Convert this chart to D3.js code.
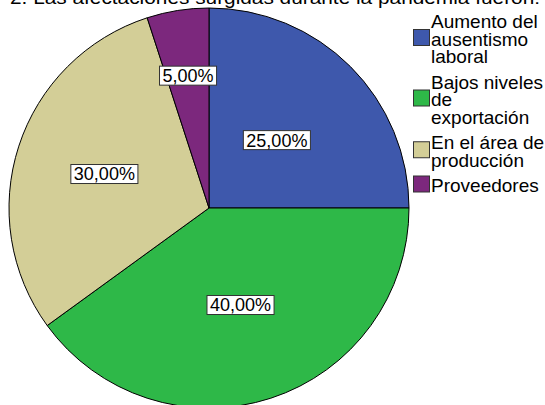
<!DOCTYPE html>
<html>
<head>
<meta charset="utf-8">
<script src="https://cdn.jsdelivr.net/npm/d3@7"></script>
<style>
html,body{margin:0;padding:0;background:#fff;}
svg{display:block;font-family:"Liberation Sans",Arial,sans-serif;}
</style>
</head>
<body>
<svg id="chart" width="545" height="405"></svg>
<script>
const title = "2.  Las afectaciones surgidas durante la pandemia fueron:";
const categories = [
  ["Aumento del", "ausentismo", "laboral"],
  ["Bajos niveles", "de", "exportación"],
  ["En el área de", "producción"],
  ["Proveedores"]
];
const values = [25, 40, 30, 5];
const valueLabels = ["25,00%", "40,00%", "30,00%", "5,00%"];
const colors = ["#3E58AC", "#2EB848", "#D3CE97", "#7C287D"];

const svg = d3.select("#chart");
const cx = 209, cy = 208, R = 200;
const labelRadiusFactor = [0.48, 0.51, 0.55, 0.67];

svg.append("text")
  .attr("x", 10).attr("y", 4)
  .attr("font-size", 18)
  .attr("textLength", 530)
  .attr("lengthAdjust", "spacingAndGlyphs")
  .attr("fill", "#000")
  .text(title);

const pie = d3.pie().sort(null).value(d => d)(values);
const arc = d3.arc().innerRadius(0).outerRadius(R);
const g = svg.append("g").attr("transform", `translate(${cx},${cy})`);

g.selectAll("path.slice").data(pie).join("path")
  .attr("class", "slice")
  .attr("d", arc)
  .attr("fill", (d, i) => colors[i])
  .attr("stroke", "#000")
  .attr("stroke-width", 1);

pie.forEach((d, i) => {
  const lr = R * labelRadiusFactor[i];
  const la = d3.arc().innerRadius(lr).outerRadius(lr);
  const [x, y] = la.centroid(d);
  const lg = g.append("g").attr("transform", `translate(${x},${y})`);
  const t = lg.append("text")
    .attr("text-anchor", "middle")
    .attr("dy", "0.36em")
    .attr("font-size", 18)
    .attr("fill", "#000")
    .text(valueLabels[i]);
  const bb = t.node().getBBox();
  lg.insert("rect", "text")
    .attr("x", bb.x - 3).attr("y", -9.5)
    .attr("width", bb.width + 6).attr("height", 19)
    .attr("fill", "#fff")
    .attr("stroke", "#333")
    .attr("stroke-width", 1);
});

// Legend
const lh = 17.5, gap = 8;
let yb = 28;
const legend = svg.append("g");
categories.forEach((lines, i) => {
  const n = lines.length;
  const center = yb - 8 + (n - 1) * lh / 2;
  legend.append("rect")
    .attr("x", 413.5).attr("y", center - 8)
    .attr("width", 16).attr("height", 16)
    .attr("fill", colors[i])
    .attr("stroke", "#333")
    .attr("stroke-width", 1);
  const t = legend.append("text")
    .attr("x", 431).attr("y", yb)
    .attr("font-size", 19)
    .attr("fill", "#000");
  lines.forEach((ln, j) => {
    t.append("tspan").attr("x", 431).attr("y", yb + j * lh).text(ln);
  });
  yb += n * lh + gap;
});
</script>
</body>
</html>
